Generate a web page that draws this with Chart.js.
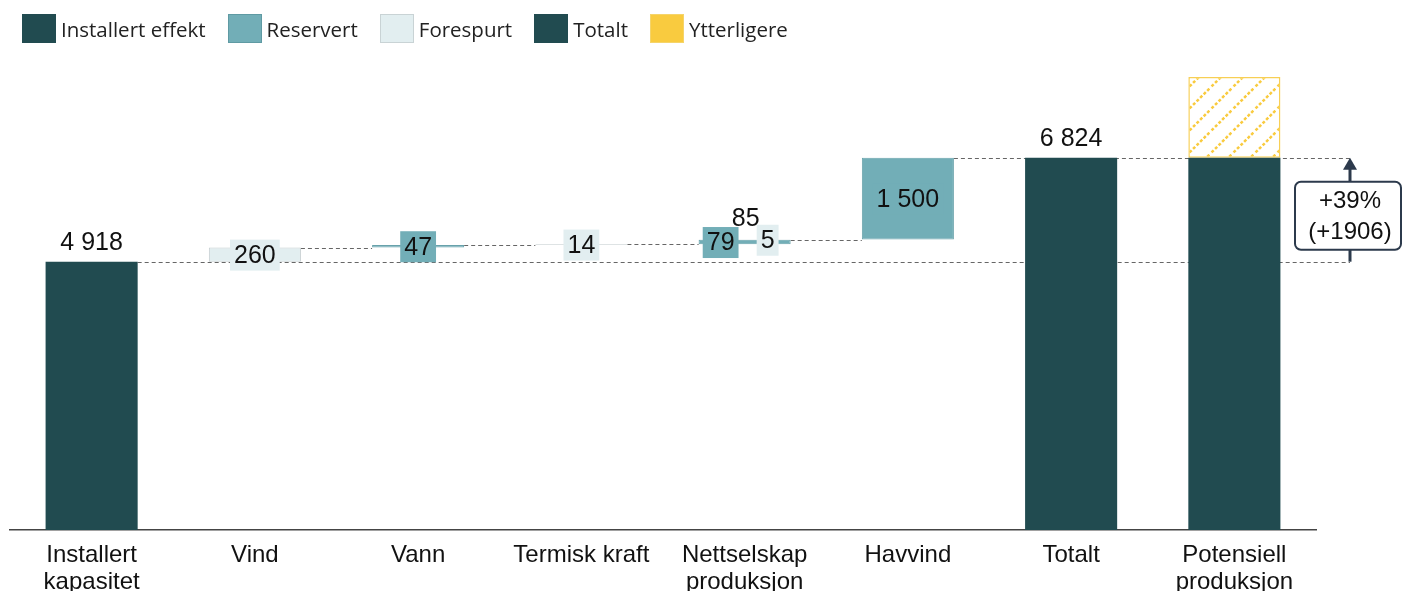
<!DOCTYPE html>
<html lang="no">
<head>
<meta charset="UTF-8">
<title>Kapasitet</title>
<script src="https://cdn.jsdelivr.net/npm/chart.js@4.4.1/dist/chart.umd.min.js"></script>
<style>
    body { margin: 0; background: #fff; }
    #wrap { position: relative; width: 1402px; height: 591px; }
    #legend { position: absolute; top: 14px; left: 22px; display: flex; align-items: center;
              font-family: "Open Sans", sans-serif; font-size: 20.5px; color: #222; }
    .item { display: flex; align-items: center; margin-right: 22px; }
    .box { width: 34px; height: 29px; box-sizing: border-box; margin-right: 5px; }
</style>
</head>
<body>
<div id="wrap">
    <div id="legend"></div>
    <canvas id="grafico"></canvas>
</div>
<script>
    // kategorier og verdier
    const categories = [['Installert', 'kapasitet'], 'Vind', 'Vann', 'Termisk kraft', ['Nettselskap', 'produksjon'], 'Havvind', 'Totalt', ['Potensiell', 'produksjon']];
    const installert = [4918, null, null, null, null, null, null, null];
    const reservert = [null, null, 47, null, 79, 1500, null, null];
    const forespurt = [null, 260, null, 14, 5, null, null, null];
    const totalt = [null, null, null, null, null, null, 6824, 6824];
    const ytterligere = [null, null, null, null, null, null, null, 1480];
    const sumLabels = ['4 918', '260', '47', '14', '85', '1 500', '6 824', ''];

    const farger = {
        installert: '#214b50',
        reservert: '#72aeb7',
        forespurt: '#e2eef0',
        totalt: '#214b50',
        ytterligere: '#f9cb3f'
    };

    // legend i html
    const legendItems = [
        ['Installert effekt', farger.installert, farger.installert],
        ['Reservert', farger.reservert, '#5f9aa3'],
        ['Forespurt', farger.forespurt, '#c9d3d5'],
        ['Totalt', farger.totalt, farger.totalt],
        ['Ytterligere', farger.ytterligere, '#f5d46a']
    ];
    legendItems.forEach(l => {
        const d = document.createElement('div');
        d.className = 'item';
        d.innerHTML = '<div class="box" style="background:' + l[1] + ';border:1px solid ' + l[2] + '"></div><span>' + l[0] + '</span>';
        document.getElementById('legend').appendChild(d);
    });

    // bygg flytende stolper
    const instRange = [], resRange = [], foreRange = [], totRange = [], ytRange = [];
    let running = 0;
    for (let i = 0; i < categories.length; i++) {
        instRange.push(installert[i] != null ? [0, installert[i]] : null);
        if (installert[i] != null) running = installert[i];
        const r = reservert[i] || 0;
        const f = forespurt[i] || 0;
        resRange.push(r ? [running, running + r] : null);
        foreRange.push(f ? [running + r, running + r + f] : null);
        running += r + f;
        totRange.push(totalt[i] != null ? [0, totalt[i]] : null);
        ytRange.push(ytterligere[i] != null ? [totalt[i], totalt[i] + ytterligere[i]] : null);
    }

    function lagSkravur() {
        const c = document.createElement('canvas');
        c.width = 22; c.height = 22;
        const x = c.getContext('2d');
        x.fillStyle = '#fff';
        x.fillRect(0, 0, 22, 22);
        x.strokeStyle = farger.ytterligere;
        x.lineWidth = 2.5;
        x.setLineDash([3, 2]);
        x.beginPath();
        x.moveTo(-2, 24); x.lineTo(24, -2);
        x.stroke();
        return x.createPattern(c, 'repeat');
    }

    function fmt(n) {
        return String(n).replace(/\B(?=(\d{3})+(?!\d))/g, ' ');
    }

    const font = '"Liberation Sans", Arial, sans-serif';

    function labelBox(ctx, text, x, y, bg) {
        ctx.font = '25px ' + font;
        const w = ctx.measureText(text).width + 8;
        ctx.fillStyle = bg;
        ctx.fillRect(x - w / 2, y - 15, w, 31);
        ctx.fillStyle = '#111';
        ctx.fillText(text, x, y + 1.5);
    }

    const tegnPlugin = {
        id: 'fossefall',
        beforeDatasetsDraw(chart) {
            const ctx = chart.ctx;
            const y = chart.scales.y;
            const arrowX = chart.chartArea.right + 34;
            const metaRes = chart.getDatasetMeta(1).data;
            const metaInst = chart.getDatasetMeta(0).data;
            ctx.save();
            ctx.strokeStyle = '#666';
            ctx.lineWidth = 1;
            ctx.setLineDash([4, 3]);
            // linje fra installert til pil
            const b0 = metaInst[0];
            ctx.beginPath();
            ctx.moveTo(b0.x + b0.width / 2, Math.round(y.getPixelForValue(installert[0])) + 0.5);
            ctx.lineTo(arrowX, Math.round(y.getPixelForValue(installert[0])) + 0.5);
            ctx.stroke();
            // koblinger mellom trinn
            let level = installert[0];
            for (let i = 1; i <= 5; i++) {
                level += (reservert[i] || 0) + (forespurt[i] || 0);
                const bar = metaRes[i];
                const xStart = bar.x + bar.width / 2;
                const xEnd = i === 5 ? arrowX : metaRes[i + 1].x - bar.width / 2;
                const py = Math.round(y.getPixelForValue(level)) + 0.5;
                ctx.beginPath();
                ctx.moveTo(xStart, py);
                ctx.lineTo(xEnd, py);
                ctx.stroke();
            }
            ctx.restore();
        },
        afterDatasetsDraw(chart) {
            const ctx = chart.ctx;
            const y = chart.scales.y;
            const bars = chart.getDatasetMeta(1).data;
            ctx.save();
            ctx.textAlign = 'center';
            ctx.textBaseline = 'middle';
            ctx.font = '25px ' + font;
            for (let i = 0; i < categories.length; i++) {
                const cx = bars[i].x;
                if (installert[i] != null || totalt[i] != null) {
                    const v = installert[i] != null ? installert[i] : totalt[i];
                    if (i === 7) continue;
                    ctx.fillStyle = '#111';
                    ctx.fillText(sumLabels[i], cx, y.getPixelForValue(v) - 19);
                    continue;
                }
                const r = resRange[i], f = foreRange[i];
                if (r && f) {
                    labelBox(ctx, fmt(reservert[i]), cx - 24, y.getPixelForValue((r[0] + r[1]) / 2), farger.reservert);
                    labelBox(ctx, fmt(forespurt[i]), cx + 23, y.getPixelForValue((f[0] + f[1]) / 2), farger.forespurt);
                    ctx.fillStyle = '#111';
                    ctx.fillText(sumLabels[i], cx + 1, y.getPixelForValue(f[1]) - 20);
                } else if (r) {
                    labelBox(ctx, sumLabels[i], cx, y.getPixelForValue((r[0] + r[1]) / 2), farger.reservert);
                } else if (f) {
                    labelBox(ctx, sumLabels[i], cx, y.getPixelForValue((f[0] + f[1]) / 2), farger.forespurt);
                }
            }
            // pil og boks
            const ax = chart.chartArea.right + 34;
            const yLow = y.getPixelForValue(installert[0]);
            const yHigh = y.getPixelForValue(totalt[6]);
            ctx.strokeStyle = '#2c3a4c';
            ctx.fillStyle = '#2c3a4c';
            ctx.lineWidth = 3;
            ctx.beginPath();
            ctx.moveTo(ax, yLow);
            ctx.lineTo(ax, yHigh + 10);
            ctx.stroke();
            ctx.beginPath();
            ctx.moveTo(ax, yHigh);
            ctx.lineTo(ax - 7, yHigh + 12);
            ctx.lineTo(ax + 7, yHigh + 12);
            ctx.closePath();
            ctx.fill();
            const diff = totalt[6] - installert[0];
            const pct = Math.round(diff / installert[0] * 100);
            const bcY = (yLow + yHigh) / 2 + 6;
            const bw = 106, bh = 68;
            ctx.lineWidth = 2;
            ctx.fillStyle = '#fff';
            ctx.beginPath();
            ctx.roundRect(ax - 55, bcY - bh / 2, bw, bh, 6);
            ctx.fill();
            ctx.stroke();
            ctx.fillStyle = '#111';
            ctx.font = '24px ' + font;
            ctx.fillText('+' + pct + '%', ax, bcY - 14);
            ctx.fillText('(+' + diff + ')', ax, bcY + 17);
            ctx.restore();
        }
    };

    const ctx = document.getElementById('grafico').getContext('2d');
    const myChart = new Chart(ctx, {
        type: 'bar',
        data: {
            labels: categories,
            datasets: [
                { label: 'Installert effekt', data: instRange, backgroundColor: farger.installert, borderWidth: 0 },
                { label: 'Reservert', data: resRange, backgroundColor: farger.reservert, borderColor: '#68a2ab', borderWidth: 1, borderSkipped: false },
                { label: 'Forespurt', data: foreRange, backgroundColor: farger.forespurt, borderColor: '#c4cdcf', borderWidth: 1, borderSkipped: false },
                { label: 'Totalt', data: totRange, backgroundColor: farger.totalt, borderWidth: 0 },
                { label: 'Ytterligere', data: ytRange, backgroundColor: lagSkravur(), borderColor: '#f7cf55', borderWidth: 1.5, borderSkipped: false }
            ]
        },
        options: {
            responsive: true,
            maintainAspectRatio: false,
            animation: false,
            layout: { padding: { left: 10, right: 86, top: 39, bottom: 0 } },
            datasets: { bar: { categoryPercentage: 1, barPercentage: 0.564 } },
            plugins: { legend: { display: false }, tooltip: { enabled: false } },
            scales: {
                x: {
                    stacked: true,
                    grid: { display: false, drawTicks: false },
                    border: { display: true, color: '#444', width: 1.5 },
                    ticks: {
                        color: '#111',
                        padding: 12,
                        maxRotation: 0,
                        autoSkip: false,
                        font: { family: font, size: 24, lineHeight: 1.125 }
                    },
                    afterFit(scale) { scale.height = 61; }
                },
                y: {
                    stacked: false,
                    display: false,
                    min: 0,
                    max: 9000
                }
            }
        },
        plugins: [tegnPlugin]
    });
</script>
</body>
</html>
